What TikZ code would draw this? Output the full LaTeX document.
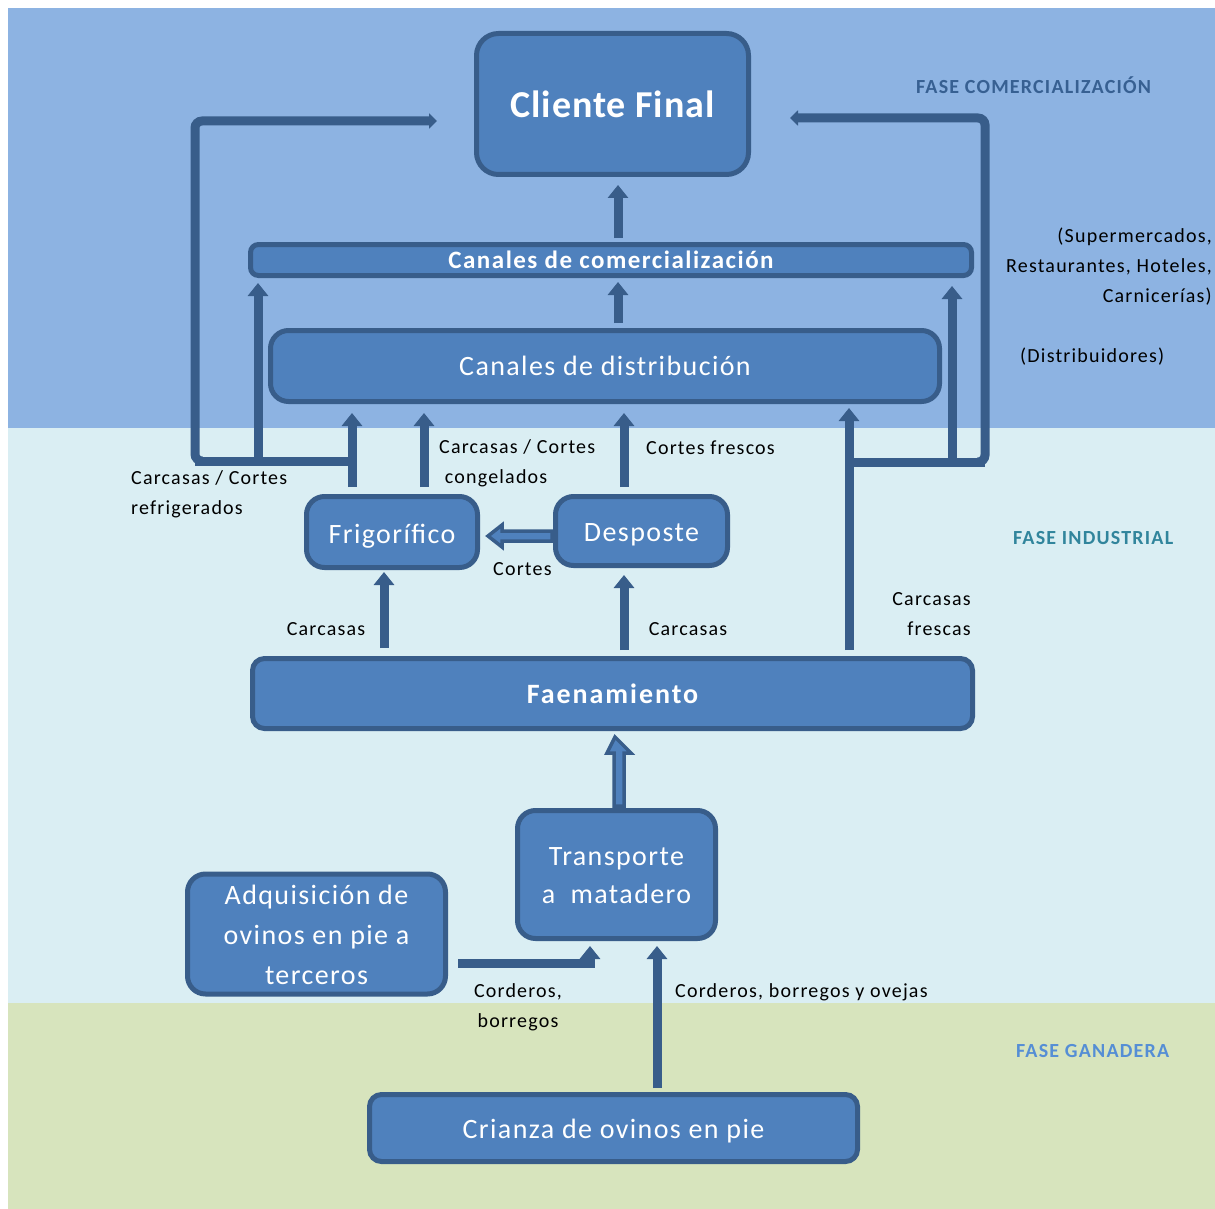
\documentclass[tikz,border=0pt]{standalone}
\usepackage{fontspec}
\setmainfont{Carlito}
\newfontfamily\lblfont{Carlito}[LetterSpace=6]
\newfontfamily\boxfont{Carlito}[LetterSpace=5]
\newfontfamily\cffont{Carlito}[LetterSpace=2.5]
\newfontfamily\fafont{Carlito}[LetterSpace=7]
\usetikzlibrary{arrows.meta,calc}

\definecolor{bgTop}{RGB}{141,179,226}
\definecolor{bgMid}{RGB}{218,238,243}
\definecolor{bgBot}{RGB}{215,228,189}
\definecolor{boxfill}{RGB}{79,129,189}
\definecolor{boxline}{RGB}{56,93,138}
\definecolor{faseCom}{RGB}{55,96,146}
\definecolor{faseInd}{RGB}{49,133,156}
\definecolor{faseGan}{RGB}{85,142,213}

% lower a box's content without changing its size
\newcommand{\dropby}[2]{\raisebox{-#1}[\height][\depth]{#2}}

\begin{document}
\begin{tikzpicture}[x=1pt,y=-1pt,
  box/.style={draw=boxline, fill=boxfill, line width=5pt, rounded corners=18pt,
    text=white, inner sep=0pt, align=center, font=\boxfont\fontsize{28}{38}\selectfont},
  flow/.style={draw=boxline, line width=9pt, -{Triangle[width=20pt,length=13pt]}},
  loopline/.style={draw=boxline, line width=9pt, rounded corners=7pt,
    -{Triangle[width=15pt,length=8pt]}},
  branch/.style={draw=boxline, line width=9pt},
  blk/.style={fill=boxfill, draw=boxline, line width=3.5pt, line join=miter},
  lbl/.style={font=\lblfont\fontsize{20}{30}\selectfont, inner sep=0pt, text=black},
  fase/.style={font=\lblfont\fontsize{20}{24}\selectfont\bfseries, inner sep=0pt, anchor=west}]

\useasboundingbox (0,0) rectangle (1215,1209);
\fill[white] (0,0) rectangle (1215,1209);

% phase bands
\fill[bgTop] (8,8) rectangle (1215,428);
\fill[bgMid] (8,428) rectangle (1215,1003);
\fill[bgBot] (8,1003) rectangle (1215,1209);

% process boxes
\node[box, minimum width=272pt, minimum height=141pt, rounded corners=22pt,
  font=\cffont\fontsize{38}{44}\selectfont\bfseries] (cf) at (612.5,104) {Cliente Final};
\node[box, minimum width=721pt, minimum height=31pt, rounded corners=8pt,
  font=\lblfont\fontsize{25}{30}\selectfont\bfseries] (cc) at (611,260) {Canales de comercialización};
\node[box, minimum width=669pt, minimum height=71pt] (cd) at (605,366) {Canales de distribución};
\node[box, minimum width=171pt, minimum height=71pt] (fr) at (392,532) {\dropby{4pt}{Frigorífico}};
\node[box, minimum width=172pt, minimum height=69pt] (dp) at (641.5,531) {\dropby{4pt}{Desposte}};
\node[box, minimum width=720pt, minimum height=70pt, rounded corners=12pt,
  font=\fafont\fontsize{28}{32}\selectfont\bfseries] (fa) at (612.5,693.5) {Faenamiento};
\node[box, minimum width=198pt, minimum height=128pt] (tr) at (616.5,874.5) {\dropby{2pt}{\begin{tabular}{@{}c@{}}Transporte\\[0pt]a\ \ matadero\end{tabular}}};
\node[box, minimum width=258pt, minimum height=117pt, font=\boxfont\fontsize{28}{40}\selectfont] (aq) at (316.5,934) {\dropby{2pt}{\begin{tabular}{@{}c@{}}Adquisición de\\ovinos en pie a\\terceros\end{tabular}}};
\node[box, minimum width=488pt, minimum height=67pt, rounded corners=12pt] (cr) at (613.5,1128) {\dropby{3pt}{Crianza de ovinos en pie}};

% junctions and free ends of the return lines
\coordinate (jL) at (352,461);
\coordinate (jR) at (849,462);
\coordinate (cfL) at (437,121);
\coordinate (cfR) at (790,118);
\coordinate (aqo) at (458,963);

% main vertical flows
\draw[flow, shorten <=4pt, shorten >=8pt] (618,0 |- cc.north) -- (618,0 |- cf.south);
\draw[flow, shorten <=5pt, shorten >=4pt] (618,0 |- cd.north) -- (618,0 |- cc.south);
\draw[flow, shorten <=7pt, shorten >=9pt] (352,0 |- fr.north) -- (352,0 |- cd.south);
\draw[flow, shorten <=7pt, shorten >=9pt] (424,0 |- fr.north) -- (424,0 |- cd.south);
\draw[flow, shorten <=7pt, shorten >=9pt] (624,0 |- dp.north) -- (624,0 |- cd.south);
\draw[flow, shorten <=8pt, shorten >=2pt] (384,0 |- fa.north) -- (384,0 |- fr.south);
\draw[flow, shorten <=6pt, shorten >=7pt] (624,0 |- fa.north) -- (624,0 |- dp.south);
\draw[flow, shorten <=6pt, shorten >=4pt] (849,0 |- fa.north) -- (849,0 |- cd.south);
\draw[flow, shorten <=4pt, shorten >=5pt] (657,0 |- cr.north) -- (657,0 |- tr.south);
\draw[flow, shorten >=5pt] (aqo) -| (590,0 |- tr.south);

% branches to the commercial channels and return lines to the final client
\draw[branch] (jL) -- (195,461);
\draw[loopline] (200,461) -- (195,461) -- (195,121) -- (cfL);
\draw[flow, shorten >=5pt] (258,461) -- (258,0 |- cc.south);
\draw[branch] (jR) -- (985,462);
\draw[loopline] (980,462) -- (985,462) -- (985,118) -- (cfR);
\draw[flow, shorten >=8pt] (952,462) -- (952,0 |- cc.south);

% block arrows
\filldraw[blk] let \p1=($(dp.west)+(-1,5)$), \p2=($(fr.east)+(8,5)$) in
  (\x1,\y1+5) -- (\x2+14,\y1+5) -- (\x2+14,\y1+11) -- (\x2,\y1)
  -- (\x2+14,\y1-11) -- (\x2+14,\y1-5) -- (\x1,\y1-5) -- cycle;
\filldraw[blk] let \p1=($(tr.north)+(2.5,-2)$), \p2=($(fa.south)+(2.5,6)$) in
  (\x1-5,\y1) -- (\x1-5,\y2-16) -- (\x1-12,\y2-16) -- (\x2,\y2)
  -- (\x1+12,\y2-16) -- (\x1+5,\y2-16) -- (\x1+5,\y1) -- cycle;

% flow labels
\node[lbl, align=left, anchor=west] (l1) at (131,494) {Carcasas / Cortes\\refrigerados};
\node[lbl, align=left, anchor=west] (l2) at (439,463) {Carcasas / Cortes\\\ congelados};
\node[lbl, anchor=west] (l3) at (646,448) {Cortes frescos};
\node[lbl, anchor=west] (l4) at (493,569) {Cortes};
\node[lbl] (l5) at (326,629) {Carcasas};
\node[lbl] (l6) at (688,629) {Carcasas};
\node[lbl, align=right, anchor=east] (l7) at (971,614) {Carcasas\\frescas};
\node[lbl, align=right, anchor=east] (l8) at (1212,267) {(Supermercados,\\Restaurantes, Hoteles,\\Carnicerías)};
\node[lbl, anchor=west] (l9) at (1020,357) {(Distribuidores)};
\node[lbl, align=center] (l10) at (518,1007) {Corderos,\\borregos};
\node[lbl, anchor=west] (l11) at (675,992) {Corderos, borregos y ovejas};

% phase titles
\node[fase, text=faseCom] (f1) at (916,85) {FASE COMERCIALIZACIÓN};
\node[fase, text=faseInd] (f2) at (1013,538) {FASE INDUSTRIAL};
\node[fase, text=faseGan] (f3) at (1016,1051) {FASE GANADERA};
\end{tikzpicture}
\end{document}
